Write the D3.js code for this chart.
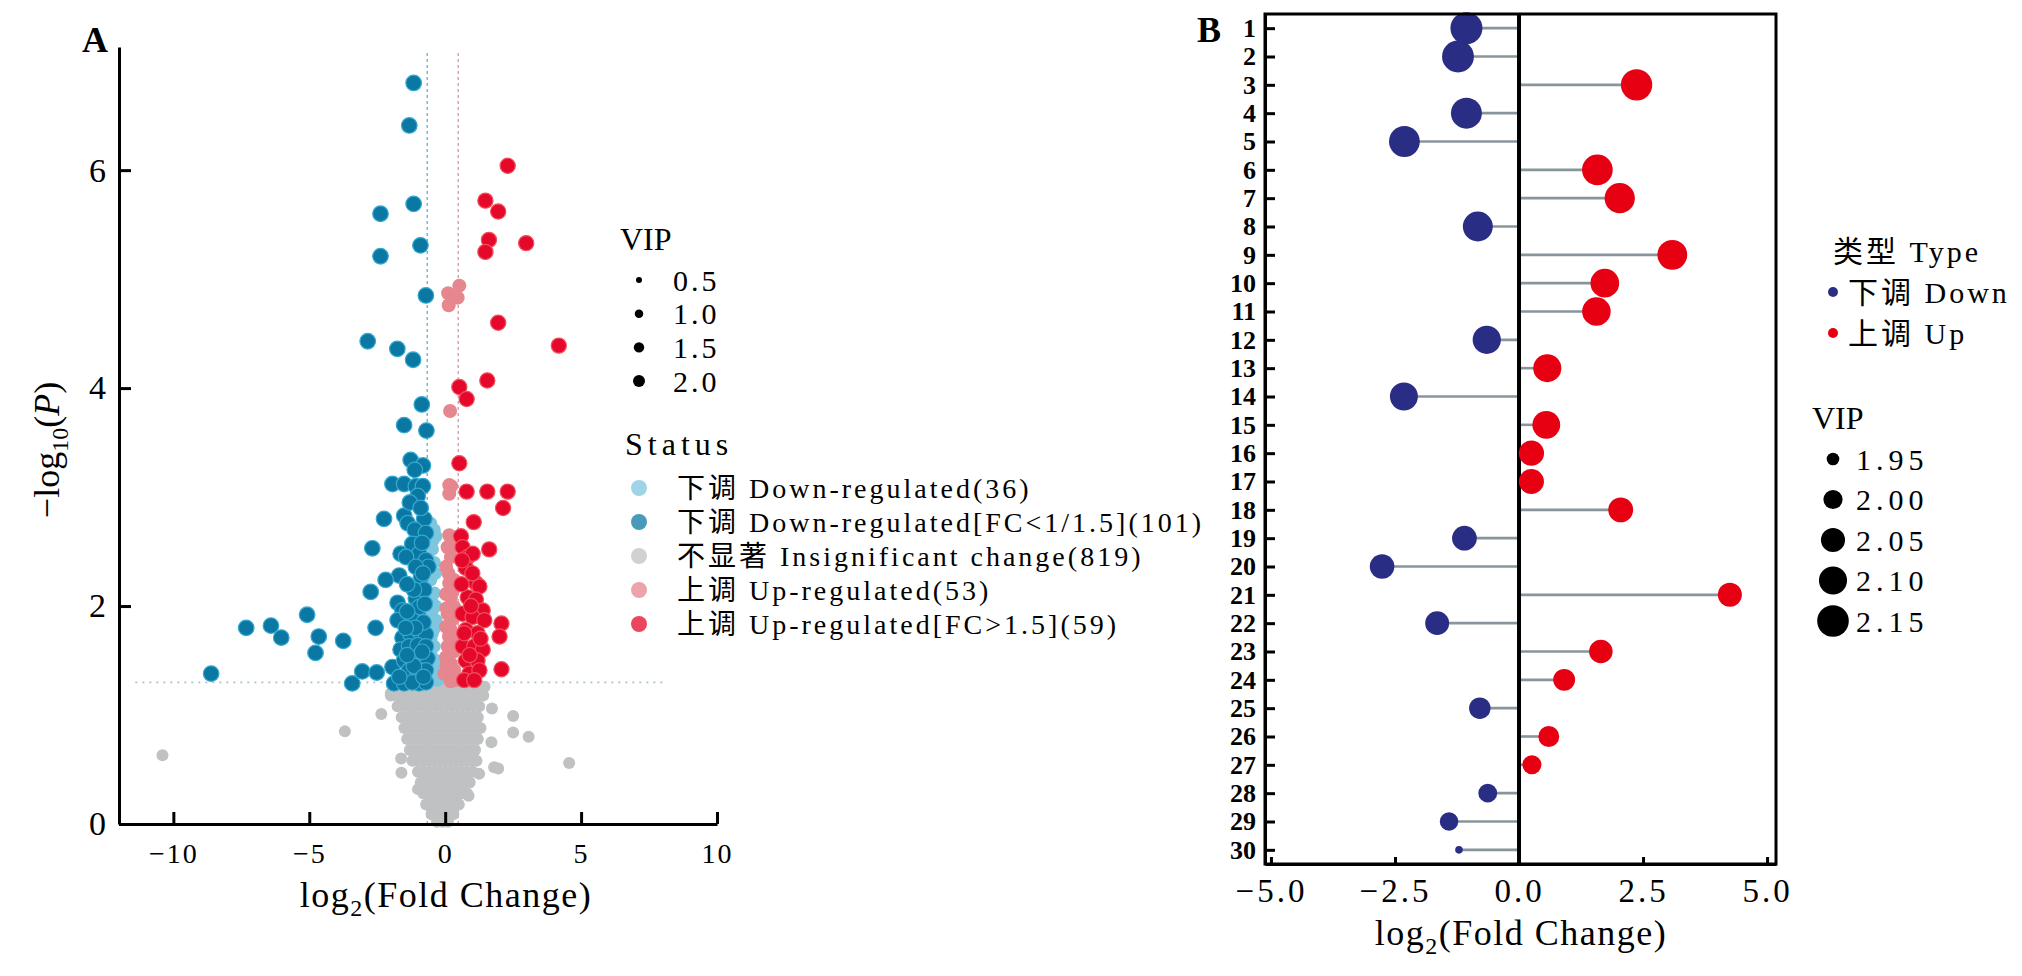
<!DOCTYPE html>
<html>
<head>
<meta charset="utf-8">
<script src="https://cdn.jsdelivr.net/npm/d3@7"></script>
<style>
  body { margin: 0; background: #fff; }
  svg text { font-family: "Liberation Serif", "Noto Sans CJK SC", serif; fill: #000; }
</style>
</head>
<body>
<div id="chart"></div>
<script>
// ---------------- Panel A data: volcano plot, points are [log2FC, -log10 P] ----------------
const downPts = [
  [-1.16,6.80],[-1.32,6.41],[-1.16,5.69],[-2.38,5.60],[-0.91,5.31],[-2.38,5.21],[-0.71,4.85],
  [-2.85,4.43],[-1.76,4.36],[-1.18,4.26],[-0.86,3.85],[-1.51,3.66],[-0.69,3.61],[-1.27,3.34],
  [-0.82,3.29],[-1.12,3.25],[-1.94,3.12],[-1.51,3.12],[-1.08,3.10],[-0.82,3.10],[-1.01,3.01],
  [-2.25,2.80],[-1.51,2.83],[-1.38,2.76],[-0.77,2.80],[-1.12,2.70],[-0.71,2.67],[-2.68,2.53],
  [-1.64,2.48],[-1.21,2.57],[-0.96,2.48],[-0.71,2.42],[-0.62,2.36],[-1.69,2.28],[-2.19,2.24],
  [-0.89,2.27],[-2.74,2.13],[-1.08,2.07],[-0.77,2.15],[-1.75,2.03],[-1.57,1.96],[-1.01,1.93],
  [-5.08,1.92],[-7.32,1.80],[-6.41,1.82],[-6.03,1.71],[-4.65,1.72],[-4.77,1.57],[-3.75,1.68],
  [-2.56,1.80],[-8.61,1.38],[-3.05,1.40],[-3.42,1.29],[-2.52,1.39],[-1.94,1.44],[-1.88,1.29],
  [-1.51,1.29],[-1.57,1.71],[-1.27,1.74],[-0.96,1.77],[-0.71,1.74],[-1.64,1.60],[-1.33,1.63],
  [-1.01,1.64],[-0.71,1.63],[-1.51,1.50],[-1.21,1.52],[-0.89,1.49],[-0.65,1.52],[-1.33,1.41],
  [-1.01,1.38],[-0.71,1.41],[-0.96,1.29],[-0.71,1.30],[-1.21,1.30],[-1.69,1.35],[-1.44,2.45],
  [-1.08,2.36],[-0.82,2.30],[-1.15,2.15],[-0.96,1.99],[-1.21,1.87],[-1.75,1.87],[-0.85,2.58],
  [-1.30,2.95],[-0.90,2.90],[-1.40,2.20],[-0.75,2.02],[-1.40,1.95],[-0.80,1.85],[-1.10,1.80],
  [-1.45,1.80],[-0.85,1.58],[-1.15,1.45],[-0.80,1.35],[-1.40,1.55]
];
const downWeakPts = [
  [-0.40,2.70],[-0.34,2.64],[-0.47,2.52],[-0.40,2.40],[-0.53,2.24],[-0.40,2.12],[-0.47,1.96],
  [-0.34,1.87],[-0.47,1.75],[-0.40,1.63],[-0.34,1.50],[-0.47,1.38],[-0.28,1.32],[-0.53,2.76],
  [-0.36,2.30],[-0.50,2.05],[-0.38,1.80],[-0.52,1.55],[-0.42,1.45],[-0.30,1.40],[-0.55,1.90],
  [-0.45,2.60],[-0.35,2.00],[-0.52,1.70]
];
const upWeakPts = [
  [0.52,4.94],[0.11,4.87],[0.46,4.83],[0.13,4.76],[0.18,3.79],[0.15,3.11],[0.22,3.10],[0.15,3.03],
  [0.15,2.65],[0.09,2.54],[0.21,2.45],[0.03,2.36],[0.15,2.21],[0.21,2.08],[0.09,1.93],[0.21,1.78],
  [0.09,1.63],[0.21,1.47],[0.15,1.35],[0.33,2.60],[0.33,2.24],[0.33,1.99],[0.40,1.69],[0.33,1.41],
  [0.03,2.11],[0.03,1.81],[0.03,1.53],[-0.03,1.38],[0.25,2.55],[0.12,2.30],[0.30,2.15],[0.05,1.98],
  [0.28,1.88],[0.14,1.72],[0.30,1.58],[0.05,1.45],[0.35,1.32],[0.20,1.31]
];
const upPts = [
  [2.30,6.04],[1.48,5.72],[1.95,5.62],[1.61,5.36],[1.48,5.25],[2.98,5.33],[1.95,4.60],[4.18,4.39],
  [1.55,4.07],[0.52,4.01],[0.79,3.90],[0.52,3.31],[0.79,3.05],[1.55,3.05],[2.30,3.05],[2.13,2.90],
  [1.05,2.77],[0.58,2.64],[0.64,2.54],[0.83,2.45],[1.01,2.48],[1.62,2.52],[0.76,2.35],[1.13,2.21],
  [1.26,2.18],[0.83,2.08],[1.13,2.06],[1.38,1.96],[0.64,1.93],[1.01,1.90],[1.44,1.87],[2.07,1.84],
  [2.00,1.72],[0.76,1.78],[1.19,1.75],[0.64,1.63],[1.07,1.63],[1.38,1.60],[0.76,1.50],[1.19,1.50],
  [0.89,1.38],[1.26,1.41],[2.07,1.42],[0.70,1.32],[1.07,1.32],[0.60,2.20],[0.95,2.00],[1.30,1.70],
  [0.90,1.55],[0.70,1.75],[1.00,2.30],[0.62,2.42]
];
// insignificant points, one row per -log10 P level: [y, [x, x, ...]]
const nsRows = [
  [1.26, [-1.9,-1.7,-1.5,-1.3,-1.1,-0.9,-0.7,-0.5,-0.3,-0.1,0.1,0.3,0.5,0.7,0.9,1.1,1.3,1.45]],
  [1.18, [-2.0,-1.8,-1.6,-1.4,-1.2,-1.0,-0.8,-0.6,-0.4,-0.2,0.0,0.2,0.4,0.6,0.8,1.0,1.2,1.4]],
  [1.08, [-1.75,-1.55,-1.35,-1.15,-0.95,-0.75,-0.55,-0.35,-0.15,0.05,0.25,0.45,0.65,0.85,1.05,1.25]],
  [0.98, [-1.6,-1.4,-1.2,-1.0,-0.8,-0.6,-0.4,-0.2,0.0,0.2,0.4,0.6,0.8,1.0,1.2]],
  [0.88, [-1.5,-1.3,-1.1,-0.9,-0.7,-0.5,-0.3,-0.1,0.1,0.3,0.5,0.7,0.9,1.1,1.3]],
  [0.78, [-1.4,-1.2,-1.0,-0.8,-0.6,-0.4,-0.2,0.0,0.2,0.4,0.6,0.8,1.0,1.2]],
  [0.68, [-1.3,-1.1,-0.9,-0.7,-0.5,-0.3,-0.1,0.1,0.3,0.5,0.7,0.9,1.1]],
  [0.58, [-1.2,-1.0,-0.8,-0.6,-0.4,-0.2,0.0,0.2,0.4,0.6,0.8,1.0,1.15]],
  [0.48, [-1.0,-0.8,-0.6,-0.4,-0.2,0.0,0.2,0.4,0.6,0.8,1.0]],
  [0.38, [-0.9,-0.7,-0.5,-0.3,-0.1,0.1,0.3,0.5,0.7,0.9]],
  [0.28, [-0.8,-0.6,-0.4,-0.2,0.0,0.2,0.4,0.6,0.8]],
  [0.18, [-0.7,-0.5,-0.3,-0.1,0.1,0.3,0.5]],
  [0.09, [-0.5,-0.3,-0.1,0.1,0.3]],
  [0.02, [-0.3,-0.1,0.1]]
];
const nsOutliers = [
  [-2.35,1.01],[-3.69,0.85],[-10.4,0.63],[-1.62,0.60],[-1.61,0.47],[-1.0,0.32],[1.72,1.06],
  [2.50,0.99],[2.50,0.84],[3.07,0.80],[1.70,0.75],[4.56,0.56],[1.80,0.52],[1.95,0.51],[1.25,0.46],
  [0.86,0.26],[1.40,1.26],[-2.0,1.2]
];
const fcCutoffs = [-0.66, 0.48];
const pCutoff = 1.3;
const xTicksA = [-10, -5, 0, 5, 10];
const yTicksA = [0, 2, 4, 6];
const vipLegendA = [0.5, 1.0, 1.5, 2.0];
const statusLabels = [
  '下调 Down-regulated(36)',
  '下调 Down-regulated[FC<1/1.5](101)',
  '不显著 Insignificant change(819)',
  '上调 Up-regulated(53)',
  '上调 Up-regulated[FC>1.5](59)'
];

// ---------------- Panel B data: lollipop of top 30 metabolites ----------------
const metaboliteIds = ['1','2','3','4','5','6','7','8','9','10','11','12','13','14','15',
  '16','17','18','19','20','21','22','23','24','25','26','27','28','29','30'];
const lollipopFC = [-1.06,-1.23,2.37,-1.06,-2.31,1.58,2.03,-0.83,3.09,1.73,1.56,-0.65,0.57,-2.32,0.55,
  0.25,0.25,2.05,-1.10,-2.76,4.25,-1.65,1.65,0.91,-0.79,0.60,0.26,-0.63,-1.41,-1.21];
const lollipopVIP = [2.156,2.154,2.146,2.140,2.138,2.136,2.130,2.126,2.124,2.108,2.106,2.102,2.100,2.098,2.096,
  2.064,2.062,2.060,2.058,2.056,2.050,2.048,2.044,2.026,2.022,2.016,1.998,1.996,1.994,1.926];
const typeLabels = ['下调 Down', '上调 Up'];
const xTicksB = [-5, -2.5, 0, 2.5, 5];
const vipLegendB = [1.95, 2.00, 2.05, 2.10, 2.15];

// ---------------- drawing ----------------
let svg = d3.select('#chart')
  .append('svg')
  .attr('width', 2022)
  .attr('height', 976)
  .style('background', '#fff');

function styleAxis(g, fontSize, spacing, bold) {
  g.select('.domain').attr('stroke', '#000').attr('stroke-width', 3);
  g.selectAll('.tick line').attr('stroke', '#000').attr('stroke-width', 3);
  g.selectAll('.tick text')
    .style('font-size', fontSize + 'px')
    .style('letter-spacing', spacing + 'px')
    .style('font-weight', bold ? 'bold' : 'normal');
}

// Panel A -------------------------------------------------------------
let xA = d3.scaleLinear().domain([-12, 10]).range([119, 717]);
let yA = d3.scaleLinear().domain([0, 7.13]).range([824, 47]);
let rVipA = d3.scaleRadial().domain([0.5, 2.0]).range([3, 6]);

let gA = svg.append('g');

// threshold lines
gA.append('line')
  .attr('x1', xA(-11.4)).attr('x2', xA(8))
  .attr('y1', yA(pCutoff)).attr('y2', yA(pCutoff))
  .attr('stroke', '#a9c3cb').attr('stroke-width', 1.8).attr('stroke-dasharray', '2,5');
gA.selectAll('line.fc')
  .data(fcCutoffs)
  .enter().append('line')
  .attr('class', 'fc')
  .attr('x1', d => xA(d)).attr('x2', d => xA(d))
  .attr('y1', yA(0)).attr('y2', yA(7.1))
  .attr('stroke', (d, i) => i === 0 ? '#6fbcd6' : '#e0a2b4')
  .attr('stroke-width', 1.5)
  .attr('stroke-dasharray', '3,3');

let nsPts = [];
nsRows.forEach(function(row) {
  row[1].forEach(function(x) { nsPts.push([x, row[0]]); });
});
nsOutliers.forEach(function(p) { nsPts.push(p); });

// one group per status, drawn in this order
let groupsA = [
  {pts: nsPts, fill: '#bfc1c3', stroke: 'none', r: 6},
  {pts: downWeakPts, fill: '#7ec6de', stroke: 'none', r: 6.5},
  {pts: upWeakPts, fill: '#e6868e', stroke: 'none', r: 7},
  {pts: downPts, fill: '#0a78a3', stroke: '#35aad0', r: 7.8},
  {pts: upPts, fill: '#e5082a', stroke: '#f0505e', r: 7.6}
];
groupsA.forEach(function(grp) {
  gA.append('g')
    .selectAll('circle')
    .data(grp.pts)
    .enter().append('circle')
    .attr('cx', d => xA(d[0]))
    .attr('cy', d => yA(d[1]))
    .attr('r', grp.r)
    .attr('fill', grp.fill)
    .attr('stroke', grp.stroke)
    .attr('stroke-width', 1.2);
});

let xAxisA = gA.append('g')
  .attr('transform', 'translate(0,' + yA(0) + ')')
  .call(d3.axisBottom(xA).tickValues(xTicksA).tickSize(-12).tickSizeOuter(0).tickPadding(19));
styleAxis(xAxisA, 28, 2, false);

let yAxisA = gA.append('g')
  .attr('transform', 'translate(' + xA(-12) + ',0)')
  .call(d3.axisLeft(yA).tickValues(yTicksA).tickSize(-12).tickSizeOuter(0).tickPadding(13));
styleAxis(yAxisA, 34, 0, false);

// axis titles
let xTitleA = gA.append('text')
  .attr('x', 446).attr('y', 907)
  .attr('text-anchor', 'middle')
  .style('font-size', '36px')
  .style('letter-spacing', '1.5px');
xTitleA.append('tspan').text('log');
xTitleA.append('tspan').attr('dy', 9).style('font-size', '24px').text('2');
xTitleA.append('tspan').attr('dy', -9).text('(Fold Change)');

let yTitleA = gA.append('text')
  .attr('transform', 'translate(59,450) rotate(-90)')
  .attr('text-anchor', 'middle')
  .style('font-size', '36px');
yTitleA.append('tspan').text('\u2212log');
yTitleA.append('tspan').attr('dy', 9).style('font-size', '24px').text('10');
yTitleA.append('tspan').attr('dy', -9).text('(');
yTitleA.append('tspan').style('font-style', 'italic').text('P');
yTitleA.append('tspan').text(')');

svg.append('text')
  .attr('x', 82).attr('y', 52)
  .style('font-size', '36px').style('font-weight', 'bold')
  .text('A');

// legend A: VIP sizes
let legA = svg.append('g');
legA.append('text').attr('x', 620).attr('y', 250).style('font-size', '32px').text('VIP');
let vipRowsA = legA.selectAll('g.vip')
  .data(vipLegendA)
  .enter().append('g')
  .attr('class', 'vip')
  .attr('transform', (d, i) => 'translate(639,' + (280 + i * 33.7) + ')');
vipRowsA.append('circle').attr('r', d => rVipA(d)).attr('fill', '#000');
vipRowsA.append('text')
  .attr('x', 34).attr('dy', '0.35em')
  .style('font-size', '30px').style('letter-spacing', '3px')
  .text(d => d3.format('.1f')(d));

// legend A: status colours
legA.append('text').attr('x', 625).attr('y', 455)
  .style('font-size', '32px').style('letter-spacing', '5px').text('Status');
let statusColors = ['#7ec6de', '#0a78a3', '#bfc1c3', '#e6868e', '#e5082a'];
let statusRows = legA.selectAll('g.status')
  .data(statusLabels)
  .enter().append('g')
  .attr('class', 'status')
  .attr('transform', (d, i) => 'translate(639,' + (488 + i * 34) + ')');
statusRows.append('circle')
  .attr('r', 8)
  .attr('fill', (d, i) => statusColors[i])
  .attr('fill-opacity', 0.75);
statusRows.append('text')
  .attr('x', 38).attr('dy', '0.35em')
  .style('font-size', '28px').style('letter-spacing', '3px')
  .text(d => d);

// Panel B -------------------------------------------------------------
let xB = d3.scaleLinear().domain([-5.12, 5.18]).range([1265, 1776]);
let yB = d3.scalePoint().domain(metaboliteIds).range([14, 864]).padding(0.5);
let rB = d3.scaleRadial().domain([1.95, 2.15]).range([6.3, 15.8]);
let typeColors = ['#2a2d84', '#e60012'];

let gB = svg.append('g');
let lolli = metaboliteIds.map(function(id, i) {
  return {id: id, fc: lollipopFC[i], vip: lollipopVIP[i], type: lollipopFC[i] < 0 ? 0 : 1};
});

gB.selectAll('line.stem')
  .data(lolli)
  .enter().append('line')
  .attr('class', 'stem')
  .attr('x1', xB(0)).attr('x2', d => xB(d.fc))
  .attr('y1', d => yB(d.id)).attr('y2', d => yB(d.id))
  .attr('stroke', '#88959a')
  .attr('stroke-width', 2.6);

gB.append('line')
  .attr('x1', xB(0)).attr('x2', xB(0))
  .attr('y1', 14).attr('y2', 864)
  .attr('stroke', '#000').attr('stroke-width', 4);

gB.selectAll('circle.dot')
  .data(lolli)
  .enter().append('circle')
  .attr('class', 'dot')
  .attr('cx', d => xB(d.fc))
  .attr('cy', d => yB(d.id))
  .attr('r', d => rB(d.vip))
  .attr('fill', d => typeColors[d.type]);

// frame
gB.append('rect')
  .attr('x', 1265).attr('y', 14)
  .attr('width', 511).attr('height', 850)
  .attr('fill', 'none').attr('stroke', '#000').attr('stroke-width', 3);

let yAxisB = gB.append('g')
  .attr('transform', 'translate(1265,0)')
  .call(d3.axisLeft(yB).tickSize(-10).tickSizeOuter(0).tickPadding(9));
styleAxis(yAxisB, 26, 0, true);

let xAxisB = gB.append('g')
  .attr('transform', 'translate(0,864)')
  .call(d3.axisBottom(xB).tickValues(xTicksB).tickFormat(d3.format('.1f'))
    .tickSize(-7).tickSizeOuter(0).tickPadding(15));
styleAxis(xAxisB, 33, 3, false);

let xTitleB = gB.append('text')
  .attr('x', 1521).attr('y', 945)
  .attr('text-anchor', 'middle')
  .style('font-size', '36px')
  .style('letter-spacing', '1.5px');
xTitleB.append('tspan').text('log');
xTitleB.append('tspan').attr('dy', 9).style('font-size', '24px').text('2');
xTitleB.append('tspan').attr('dy', -9).text('(Fold Change)');

svg.append('text')
  .attr('x', 1197).attr('y', 42)
  .style('font-size', '36px').style('font-weight', 'bold')
  .text('B');

// legend B
let legB = svg.append('g');
legB.append('text').attr('x', 1833).attr('y', 262)
  .style('font-size', '30px').style('letter-spacing', '3px').text('类型 Type');
let typeRows = legB.selectAll('g.type')
  .data(typeLabels)
  .enter().append('g')
  .attr('class', 'type')
  .attr('transform', (d, i) => 'translate(1833,' + (292 + i * 41) + ')');
typeRows.append('circle').attr('r', 5).attr('fill', (d, i) => typeColors[i]);
typeRows.append('text')
  .attr('x', 15).attr('dy', '0.35em')
  .style('font-size', '30px').style('letter-spacing', '3px')
  .text(d => d);

legB.append('text').attr('x', 1812).attr('y', 429).style('font-size', '32px').text('VIP');
let vipRowsB = legB.selectAll('g.vipb')
  .data(vipLegendB)
  .enter().append('g')
  .attr('class', 'vipb')
  .attr('transform', (d, i) => 'translate(1833,' + (459 + i * 40.5) + ')');
vipRowsB.append('circle').attr('r', d => rB(d)).attr('fill', '#000');
vipRowsB.append('text')
  .attr('x', 23).attr('dy', '0.35em')
  .style('font-size', '30px').style('letter-spacing', '5px')
  .text(d => d3.format('.2f')(d));
</script>
</body>
</html>
